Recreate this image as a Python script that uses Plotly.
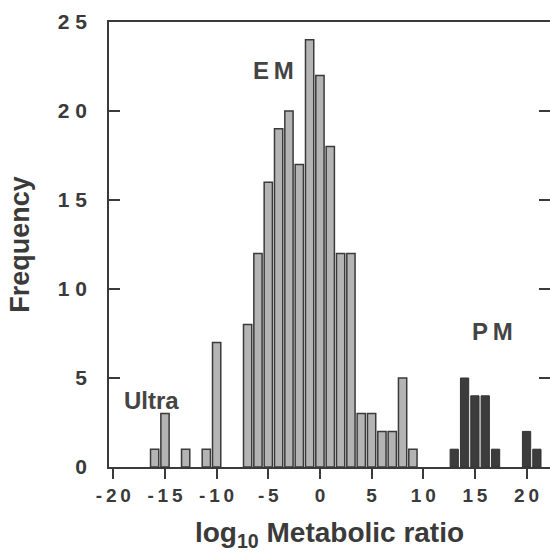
import plotly.graph_objects as go

# Light-gray bars (Ultra + EM groups)
em_x = [-16, -15, -13, -11, -10, -7, -6, -5, -4, -3, -2, -1, 0, 1, 2, 3, 4, 5, 6, 7, 8, 9]
em_y = [1, 3, 1, 1, 7, 8, 12, 16, 19, 20, 17, 24, 22, 18, 12, 12, 3, 3, 2, 2, 5, 1]

# Dark bars (PM group)
pm_x = [13, 14, 15, 16, 17, 20, 21]
pm_y = [1, 5, 4, 4, 1, 2, 1]

ts = "\u2009"
x_tickvals = [-20, -15, -10, -5, 0, 5, 10, 15, 20]
x_ticktext = ["-" + ts + "2" + ts + "0", "-" + ts + "1" + ts + "5", "-" + ts + "1" + ts + "0",
              "-" + ts + "5", "0", "5", "1" + ts + "0", "1" + ts + "5", "2" + ts + "0"]
y_tickvals = [0, 5, 10, 15, 20, 25]
y_ticktext = ["0", "5", "1 0", "1 5", "2 0", "2 5"]

labels = [("E\u2009M", -4.5, 22.3), ("P\u2009M", 16.7, 7.6), ("Ultra", -16.3, 3.75)]

ink = "#3a3a3a"
font_family = "Liberation Sans, Arial, Helvetica, sans-serif"

fig = go.Figure()
fig.add_trace(go.Bar(x=em_x, y=em_y, width=0.8,
                     marker=dict(color="#b4b4b4", line=dict(color=ink, width=1.5)),
                     showlegend=False))
fig.add_trace(go.Bar(x=pm_x, y=pm_y, width=0.8,
                     marker=dict(color="#3c3c3c", line=dict(color="#333333", width=1)),
                     showlegend=False))

for text, lx, ly in labels:
    fig.add_annotation(x=lx, y=ly, text=text, showarrow=False,
                       font=dict(family=font_family, size=24, color="#444444", weight="bold"))

fig.update_layout(
    width=550, height=558,
    margin=dict(l=109, r=0, t=22, b=91),
    plot_bgcolor="white", paper_bgcolor="white",
    barmode="overlay",
    font=dict(family=font_family, color=ink),
    xaxis=dict(range=[-20.42, 22.27], tickvals=x_tickvals, ticktext=x_ticktext,
               ticks="outside", ticklen=10, tickwidth=1.5, tickcolor=ink,
               showline=True, linecolor=ink, linewidth=1.5, mirror=True,
               showgrid=False, zeroline=False, automargin=False,
               tickfont=dict(size=19, color=ink, weight="bold"),
               title=dict(text="log<sub>10</sub> Metabolic ratio", standoff=18,
                          font=dict(size=28, color=ink, weight="bold"))),
    yaxis=dict(range=[0, 25], tickvals=y_tickvals, ticktext=y_ticktext,
               ticks="inside", ticklen=11, tickwidth=1.5, tickcolor=ink,
               showline=True, linecolor=ink, linewidth=1.5, mirror="ticks",
               showgrid=False, zeroline=False, ticklabelstandoff=16, automargin=False,
               tickfont=dict(size=21, color=ink, weight="bold"),
               title=dict(text="Frequency", standoff=20,
                          font=dict(size=27, color=ink, weight="bold"))),
)

fig.write_html("out.html", config={"displayModeBar": False},
               post_script="document.body.style.margin='0';document.body.style.overflow='hidden';")
